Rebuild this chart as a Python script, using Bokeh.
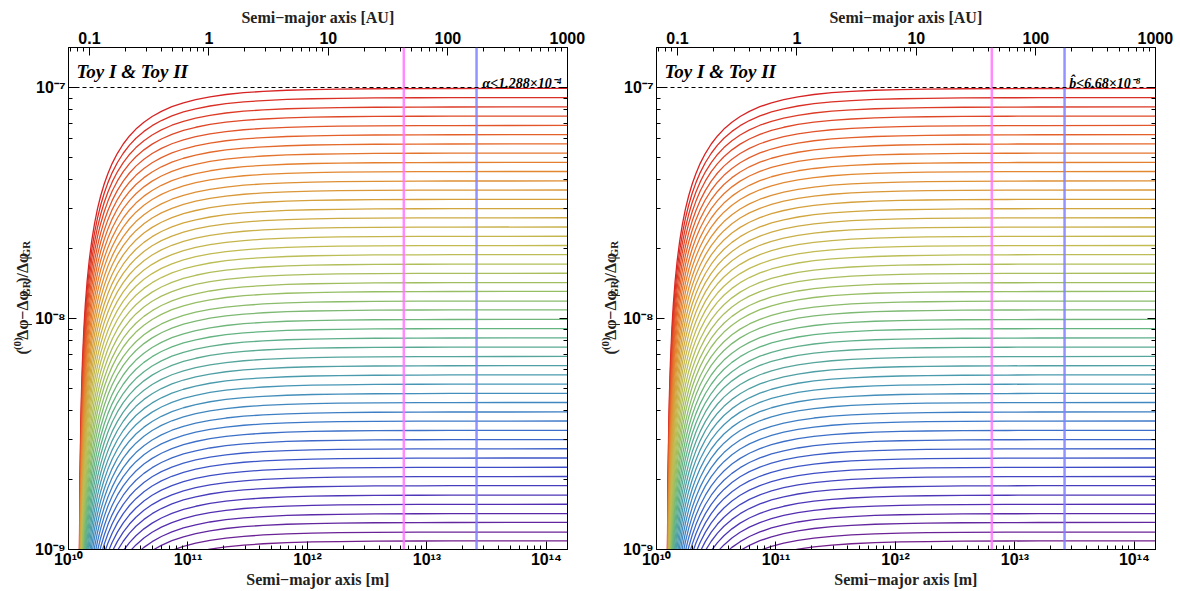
import math
from bokeh.plotting import figure
from bokeh.models import (Range1d, LogScale, LogAxis, LogTicker,
                          CustomJSTickFormatter, Span, Label)
from bokeh.core.properties import value
from bokeh.layouts import row
from bokeh.embed import file_html
from bokeh.resources import INLINE

# ---------------- data ----------------
AU_M = 1.496e11                       # metres per AU (top axis)
x_start, x_end = 1.0e10, 1.5e14       # semi-major axis range [m]
y_start, y_end = 1.0e-9, 1.49e-7      # relative deviation range

# plateau level of each curve (top = red ... bottom = purple)
plateau_levels = [
    9.91e-8, 9.04e-8, 8.24e-8, 7.52e-8, 6.85e-8, 6.25e-8, 5.70e-8, 5.20e-8,
    4.74e-8, 4.33e-8, 3.94e-8, 3.60e-8, 3.28e-8, 2.99e-8, 2.73e-8, 2.49e-8,
    2.27e-8, 2.07e-8, 1.89e-8, 1.72e-8, 1.57e-8, 1.43e-8, 1.31e-8, 1.19e-8,
    1.09e-8,
    9.91e-9, 9.04e-9, 8.24e-9, 7.52e-9, 6.85e-9, 6.25e-9, 5.70e-9, 5.20e-9,
    4.74e-9, 4.33e-9, 3.94e-9, 3.60e-9, 3.28e-9, 2.99e-9, 2.73e-9, 2.49e-9,
    2.27e-9, 2.07e-9, 1.89e-9, 1.72e-9, 1.57e-9, 1.43e-9, 1.31e-9, 1.19e-9,
    1.09e-9,
]

# common rise of the curves: semi-major axis (in units of the onset) and
# fraction of the plateau reached there
onset_m = 1.222e10
shape_a = [1.005, 1.01, 1.02, 1.035, 1.05, 1.07, 1.1, 1.13, 1.17, 1.22,
           1.28, 1.35, 1.43, 1.52, 1.63, 1.75, 1.9, 2.1, 2.35, 2.65, 3.0,
           3.5, 4.1, 4.9, 6.0, 7.5, 9.5, 12.5, 17, 24, 35, 55, 90, 150, 300,
           700, 1300, 12300]
shape_frac = [0.00498, 0.0099, 0.0196, 0.0338, 0.0476, 0.0654, 0.0909,
              0.1150, 0.1453, 0.1803, 0.2188, 0.2593, 0.3007, 0.3421, 0.3865,
              0.4286, 0.4737, 0.5238, 0.5745, 0.6226, 0.6667, 0.7143, 0.7561,
              0.7959, 0.8333, 0.8667, 0.8947, 0.92, 0.9412, 0.9583, 0.9714,
              0.9818, 0.9889, 0.9933, 0.9967, 0.9986, 0.99923, 0.99992]

bound_level = 1.0e-7                    # dashed line
marker_lines_m = [6.4e12, 2.6e13]       # vertical lines (magenta, blue)
bound_texts = ["\u03b1<1.288\u00d710\u207b\u2074",
               "b\u0302<6.68\u00d710\u207b\u2078"]
panel_title = "Toy I & Toy II"
x_title_bottom = "Semi\u2212major axis [m]"
x_title_top = "Semi\u2212major axis [AU]"

# ---------------- styling helpers ----------------
rainbow_stops = [
    (0.00, (115, 30, 140)), (0.08, (82, 45, 178)), (0.17, (60, 80, 200)),
    (0.27, (60, 122, 200)), (0.35, (70, 150, 180)), (0.47, (100, 180, 130)),
    (0.55, (150, 190, 100)), (0.64, (190, 190, 85)), (0.75, (212, 162, 60)),
    (0.82, (228, 135, 48)), (0.90, (228, 95, 42)), (1.00, (215, 35, 35)),
]


def rainbow(t):
    for (t0, c0), (t1, c1) in zip(rainbow_stops[:-1], rainbow_stops[1:]):
        if t <= t1:
            f = (t - t0) / (t1 - t0)
            r, g, b = (round(c0[i] + f * (c1[i] - c0[i])) for i in range(3))
            return "#%02x%02x%02x" % (r, g, b)
    return "#%02x%02x%02x" % rainbow_stops[-1][1]


H = 591
FRAME = 502          # frame size in px
TOP_B = 47
BOT_B = H - TOP_B - FRAME
LEFT_B = 33
LAB_W = 32
LX = math.log10(x_end / x_start)
LY = math.log10(y_end / y_start)


def fx(px):          # px from frame left -> data x
    return 10 ** (math.log10(x_start) + px / FRAME * LX)


def fy(py):          # px from frame top -> data y
    return 10 ** (math.log10(y_end) - py / FRAME * LY)


sup_map = ("{'-':'\u207b','0':'\u2070','1':'\u00b9','2':'\u00b2','3':'\u00b3',"
           "'4':'\u2074','5':'\u2075','6':'\u2076','7':'\u2077','8':'\u2078','9':'\u2079'}")
pow_code = ("const s = " + sup_map + ";\n"
            "const e = Math.round(Math.log10(tick));\n"
            "return '10' + String(e).split('').map(c => s[c]).join('');")
au_code = "return tick < 1 ? tick.toFixed(1) : tick.toFixed(0);"


def style_axis(ax):
    ax.major_tick_in = 8
    ax.major_tick_out = 0
    ax.minor_tick_in = 4
    ax.minor_tick_out = 0
    ax.axis_line_color = "black"
    ax.major_tick_line_color = "black"
    ax.minor_tick_line_color = "black"
    ax.major_label_text_font = "Liberation Sans"
    ax.major_label_text_font_style = "bold"
    ax.major_label_text_font_size = "16px"
    ax.major_label_text_color = "black"
    ax.major_label_standoff = 3
    ax.axis_label_text_font = "Liberation Serif"
    ax.axis_label_text_font_style = "bold"
    ax.axis_label_text_font_size = "16px"
    ax.axis_label_text_color = "#222222"


def make_ylabel_fig():
    """Narrow strip holding the rotated y-axis title (pixel coordinates)."""
    q = figure(width=LAB_W, height=H, x_range=Range1d(0, LAB_W),
               y_range=Range1d(0, H), output_backend="svg",
               toolbar_location=None, x_axis_location=None,
               y_axis_location=None, min_border=0)
    q.grid.visible = False
    q.outline_line_color = None
    # pieces: text, size, baseline x, width along the label
    pieces = [("(", 16, 22, 5.3), ("(0)", 11, 16, 12.3),
              ("\u0394\u03c6\u2212\u0394\u03c6", 16, 22, 50.5),
              ("GR", 11, 25, 16.5), (")/\u0394\u03c6", 16, 22, 30.0),
              ("GR", 11, 25, 16.5)]
    total = sum(pc[3] for pc in pieces)
    cursor = 296 + total / 2          # page y of the start (bottom)
    for txt, size, bx, w in pieces:
        q.text(x=[bx], y=[H - cursor], text=[txt], angle=math.pi / 2,
               text_font=value("Liberation Serif"), text_font_style="bold",
               text_font_size="%dpx" % size, text_color="#222222",
               text_align="left", text_baseline="alphabetic")
        cursor -= w
    return q


def make_panel(bound_text, border_right, text_right_px):
    width = LEFT_B + FRAME + border_right
    p = figure(width=width, height=H, x_axis_type="log", y_axis_type="log",
               x_range=Range1d(x_start, x_end), y_range=Range1d(y_start, y_end),
               output_backend="svg", toolbar_location=None,
               x_axis_location=None, y_axis_location=None,
               min_border_left=LEFT_B, min_border_right=border_right,
               min_border_top=TOP_B, min_border_bottom=BOT_B)
    p.grid.visible = False
    p.outline_line_color = "black"
    p.background_fill_color = "white"
    p.border_fill_color = "white"

    p.extra_x_ranges = {"au": Range1d(x_start / AU_M, x_end / AU_M)}
    p.extra_x_scales = {"au": LogScale()}

    bottom = LogAxis(ticker=LogTicker(num_minor_ticks=10),
                     formatter=CustomJSTickFormatter(code=pow_code),
                     axis_label=x_title_bottom)
    style_axis(bottom)
    bottom.major_label_standoff = 1
    bottom.axis_label_standoff = 0
    p.add_layout(bottom, "below")

    top = LogAxis(x_range_name="au", ticker=LogTicker(num_minor_ticks=10),
                  formatter=CustomJSTickFormatter(code=au_code),
                  axis_label=x_title_top)
    style_axis(top)
    top.major_label_standoff = 4
    top.axis_label_standoff = 3
    p.add_layout(top, "above")

    left = LogAxis(ticker=LogTicker(num_minor_ticks=10),
                   formatter=CustomJSTickFormatter(code=pow_code))
    style_axis(left)
    p.add_layout(left, "left")

    right = LogAxis(ticker=LogTicker(num_minor_ticks=10),
                    formatter=CustomJSTickFormatter(code="return '';"))
    style_axis(right)
    right.major_label_standoff = 0
    p.add_layout(right, "right")

    # curves
    n = len(plateau_levels)
    xs, ys, cols = [], [], []
    for k, c in enumerate(plateau_levels):
        xs.append([m * onset_m for m in shape_a])
        ys.append([c * f for f in shape_frac])
        cols.append(rainbow(1 - k / (n - 1)))
    p.multi_line(xs, ys, line_color=cols, line_width=1.3)

    # vertical marker lines
    for loc, col in zip(marker_lines_m, ["#ff77ff", "#8080ff"]):
        p.add_layout(Span(location=loc, dimension="height", line_color=col,
                          line_width=2.5, line_alpha=0.85))
    # dashed bound
    p.add_layout(Span(location=bound_level, dimension="width",
                      line_color="black", line_width=1, line_dash="4 3"))

    p.add_layout(Label(x=fx(8), y=fy(24), text=panel_title,
                       text_font="Liberation Serif", text_font_style="bold italic",
                       text_font_size="19px", text_color="black",
                       text_align="left", text_baseline="alphabetic"))
    p.add_layout(Label(x=fx(text_right_px), y=fy(36), text=bound_text,
                       text_font="Liberation Serif", text_font_style="bold italic",
                       text_font_size="14px", text_color="black",
                       text_align="right", text_baseline="alphabetic"))
    return p


lab1 = make_ylabel_fig()
p1 = make_panel(bound_texts[0], 21, 496)
lab2 = make_ylabel_fig()
p2 = make_panel(bound_texts[1], 22, 487)
layout = row(lab1, p1, lab2, p2)

with open("out.html", "w") as fh:
    fh.write(file_html(layout, INLINE))
